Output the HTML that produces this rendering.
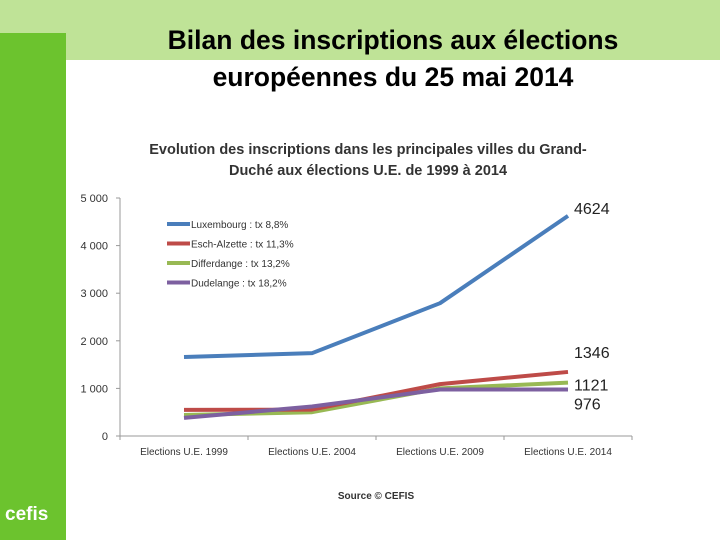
<!DOCTYPE html>
<html><head><meta charset="utf-8"><style>
body{margin:0;width:720px;height:540px;overflow:hidden;background:#fff;font-family:"Liberation Sans",sans-serif;position:relative}
#band{position:absolute;left:0;top:0;width:720px;height:60px;background:#bfe397}
#bar{position:absolute;left:0;top:33px;width:66px;height:507px;background:#6cc32e}
#title{position:absolute;left:66px;width:654px;top:22px;text-align:center;font-size:26.5px;font-weight:bold;line-height:37px;color:#000}
svg{position:absolute;left:0;top:0}
</style></head><body>
<div id="band"></div>
<div id="bar"></div>
<div id="title">Bilan des inscriptions aux élections<br>européennes du 25 mai 2014</div>
<svg id="chart" width="720" height="540">
<text x="368" y="154" text-anchor="middle" font-size="14.5" font-weight="bold" fill="#333">Evolution des inscriptions dans les principales villes du Grand-</text>
<text x="368" y="175" text-anchor="middle" font-size="14.5" font-weight="bold" fill="#333">Duché aux élections U.E. de 1999 à 2014</text>
<text x="376" y="499" text-anchor="middle" font-size="10" font-weight="bold" fill="#333">Source © CEFIS</text>
<text x="5" y="520" font-size="19" font-weight="bold" fill="#fff">cefis</text>
</svg>
<script>
const categories=["Elections U.E. 1999","Elections U.E. 2004","Elections U.E. 2009","Elections U.E. 2014"];
const yTicks=[0,1000,2000,3000,4000,5000];
const yTickLabels=["0","1 000","2 000","3 000","4 000","5 000"];
const seriesNames=["Luxembourg : tx 8,8%","Esch-Alzette : tx 11,3%","Differdange : tx 13,2%","Dudelange : tx 18,2%"];
const luxembourg=[1660,1740,2790,4624];
const esch=[550,555,1090,1346];
const differdange=[440,500,1000,1121];
const dudelange=[380,620,976,976];
const endLabels=["4624","1346","1121","976"];
const colors=["#4a7ebb","#be4b48","#98b954","#7d60a0"];
const svg=document.getElementById('chart');
const NS="http://www.w3.org/2000/svg";
const x0=120,x1=632,y0=436,y1=198,ymax=5000;
const bw=(x1-x0)/categories.length;
const xs=i=>x0+bw*(i+0.5);
const ys=v=>y0-(v/ymax)*(y0-y1);
function mk(t,a){const e=document.createElementNS(NS,t);for(const k in a)e.setAttribute(k,a[k]);svg.appendChild(e);return e;}
let ax=mk('line',{x1:x0,y1:y0,x2:x1,y2:y0,stroke:'#999'});


let ay=mk('line',{x1:x0,y1:y1,x2:x0,y2:y0,stroke:'#999'});


yTicks.forEach((v,i)=>{
 mk('line',{x1:x0-4,y1:ys(v),x2:x0,y2:ys(v),stroke:'#999'});
 const t=mk('text',{x:x0-12,y:ys(v)+4,'text-anchor':'end','font-size':11,fill:'#333'});
 t.textContent=yTickLabels[i];
 
 
});
for(let i=0;i<=categories.length;i++)mk('line',{x1:x0+bw*i,y1:y0,x2:x0+bw*i,y2:y0+4,stroke:'#999'});
categories.forEach((c,i)=>{
 const t=mk('text',{x:xs(i),y:455,'text-anchor':'middle','font-size':10,fill:'#333'});
 t.textContent=c;
 
 
});
const all=[luxembourg,esch,differdange,dudelange];
[differdange,esch,dudelange,luxembourg].forEach(s=>{
 const k=all.indexOf(s);
 const p=mk('polyline',{points:s.map((v,i)=>xs(i)+','+ys(v)).join(' '),fill:'none',stroke:colors[k],'stroke-width':4,'stroke-linejoin':'round'});
 
 
});
const lblY=[ys(luxembourg[3])-2,ys(esch[3])-14,ys(differdange[3])+8,ys(dudelange[3])+20];
endLabels.forEach((l,k)=>{
 const t=mk('text',{x:574,y:lblY[k],'font-size':16,fill:'#222'});
 t.textContent=l;
 
 
});
seriesNames.forEach((n,k)=>{
 const y=224+k*19.5;
 mk('line',{x1:167,y1:y,x2:190,y2:y,stroke:colors[k],'stroke-width':4});
 const t=mk('text',{x:191,y:y+4,'font-size':10,fill:'#333'});
 t.textContent=n;
 
 
});
</script>
</body></html>
